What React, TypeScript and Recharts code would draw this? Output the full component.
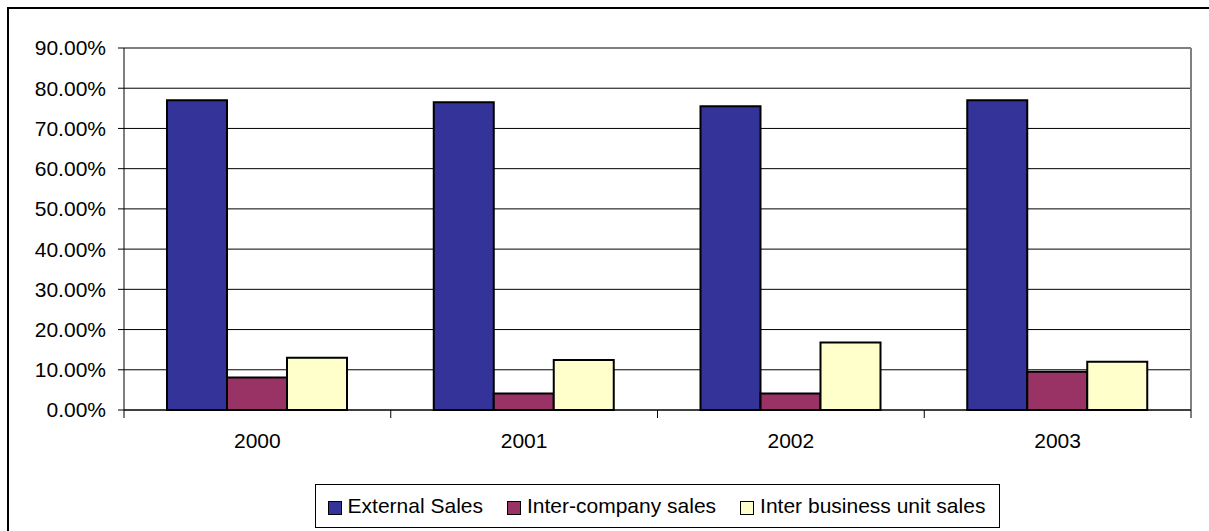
import React from "react";
import { Bar, BarChart, CartesianGrid, Legend, XAxis, YAxis } from "recharts";

const years = ["2000", "2001", "2002", "2003"];
const externalSales = [0.77, 0.765, 0.755, 0.77];
const interCompany = [0.081, 0.041, 0.041, 0.095];
const interBusinessUnit = [0.13, 0.124, 0.168, 0.12];
const yTicks = [0, 0.1, 0.2, 0.3, 0.4, 0.5, 0.6, 0.7, 0.8, 0.9];

const series = [
  { key: "external", name: "External Sales", color: "#333399" },
  { key: "interCompany", name: "Inter-company sales", color: "#993366" },
  { key: "interBU", name: "Inter business unit sales", color: "#FFFFCC" }
];

const data = years.map((year, i) => ({
  year,
  external: externalSales[i],
  interCompany: interCompany[i],
  interBU: interBusinessUnit[i]
}));

const W = 1201;
const H = 523;
const Y_W = 115;
const M_RIGHT = 19;
const BAND = (W - Y_W - M_RIGHT) / years.length;
const FONT = "'Liberation Sans', Arial, sans-serif";

const XTick = (props: any) => {
  const { x, y, payload, index } = props;
  const half = BAND / 2;
  return (
    <g>
      {index === 0 && <line x1={x - half} x2={x - half} y1={y} y2={y + 8} stroke="#000" />}
      <line x1={x + half} x2={x + half} y1={y} y2={y + 8} stroke="#000" />
      <text x={x} y={y + 38} textAnchor="middle" fill="#000" fontSize={21} fontFamily={FONT}>
        {payload.value}
      </text>
    </g>
  );
};

const LegendBox = () => (
  <div style={{ marginLeft: Y_W, width: W - Y_W - M_RIGHT, display: "flex", justifyContent: "center" }}>
    <div
      style={{
        border: "1px solid #000",
        height: 42,
        display: "flex",
        alignItems: "center",
        padding: "0 14px 0 12px",
        fontFamily: FONT,
        fontSize: 21,
        color: "#000",
        background: "#fff"
      }}
    >
      {series.map((s, i) => (
        <span key={s.key} style={{ display: "flex", alignItems: "center", marginLeft: i === 0 ? 0 : 24 }}>
          <span
            style={{
              width: 12,
              height: 12,
              background: s.color,
              border: "1px solid #000",
              marginRight: 6,
              marginTop: 4
            }}
          />
          {s.name}
        </span>
      ))}
    </div>
  </div>
);

export default function App() {
  return (
    <div
      style={{
        position: "fixed",
        top: 7,
        left: 7,
        width: W + 8,
        height: H + 8,
        overflow: "hidden",
        borderTop: "2px solid #000",
        borderLeft: "2px solid #000",
        background: "#fff"
      }}
    >
      <BarChart
        width={W}
        height={H}
        data={data}
        barGap={0}
        barSize={60}
        margin={{ top: 39, right: M_RIGHT, left: 0, bottom: 4 }}
      >
        <CartesianGrid vertical={false} stroke="#000" strokeWidth={1} />
        <CartesianGrid
          stroke="#808080"
          strokeWidth={2}
          horizontalCoordinatesGenerator={({ offset }: any) => [offset.top]}
          verticalCoordinatesGenerator={({ offset }: any) => [offset.left + offset.width]}
        />
        <XAxis
          dataKey="year"
          axisLine={{ stroke: "#000" }}
          tickLine={false}
          tickSize={0}
          tickMargin={0}
          height={74}
          interval={0}
          tick={<XTick />}
        />
        <YAxis
          domain={[0, 0.9]}
          ticks={yTicks}
          width={Y_W}
          axisLine={{ stroke: "#000" }}
          tickLine={{ stroke: "#000" }}
          tickSize={6}
          tickMargin={12}
          tick={{ fill: "#000", fontSize: 21, fontFamily: FONT }}
          tickFormatter={(v: number) => (v * 100).toFixed(2) + "%"}
        />
        <Legend verticalAlign="bottom" content={<LegendBox />} wrapperStyle={{ left: 0, width: W }} />
        {series.map((s) => (
          <Bar
            key={s.key}
            dataKey={s.key}
            name={s.name}
            fill={s.color}
            stroke="#000"
            strokeWidth={2}
            isAnimationActive={false}
          />
        ))}
      </BarChart>
    </div>
  );
}
